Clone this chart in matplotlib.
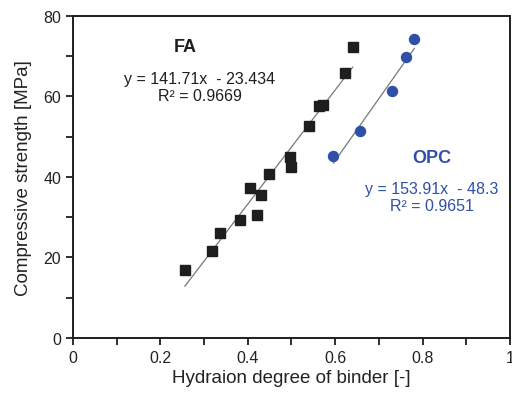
import numpy as np
import matplotlib
matplotlib.use("Agg")
import matplotlib.pyplot as plt
from matplotlib.ticker import MultipleLocator

plt.rcParams["font.family"] = ["Liberation Sans", "DejaVu Sans"]

# FA binder: hydration degree vs compressive strength
fa_x = [0.256, 0.317, 0.337, 0.382, 0.405, 0.420, 0.430, 0.449, 0.497, 0.500,
        0.540, 0.562, 0.571, 0.623, 0.640]
fa_y = [16.9, 21.5, 26.0, 29.3, 37.3, 30.5, 35.5, 40.7, 45.0, 42.5,
        52.7, 57.7, 57.9, 65.8, 72.2]

# OPC binder
opc_x = [0.596, 0.657, 0.731, 0.762, 0.781]
opc_y = [45.3, 51.3, 61.4, 69.7, 74.3]

fa_fit = (141.71, -23.434)
opc_fit = (153.91, -48.3)

x_ticks = [0, 0.2, 0.4, 0.6, 0.8, 1]
x_labels = ["0", "0.2", "0.4", "0.6", "0.8", "1"]
y_ticks = [0, 20, 40, 60, 80]
y_labels = ["0", "20", "40", "60", "80"]

blue = "#2F4FA8"
dark = "#1E1E1E"

fig = plt.figure(figsize=(5.12, 4.02), dpi=100)
ax = fig.add_axes([0.1426, 0.157, 0.8534, 0.801])

# trend lines over data range
xs = np.array([min(fa_x), max(fa_x)])
ax.plot(xs, fa_fit[0] * xs + fa_fit[1], color="#777777", lw=0.9, zorder=1)
xs = np.array([min(opc_x), max(opc_x)])
ax.plot(xs, opc_fit[0] * xs + opc_fit[1], color="#777777", lw=0.9, zorder=1)

ax.plot(fa_x, fa_y, "s", color=dark, ms=7.8, mec=dark, zorder=3)
ax.plot(opc_x, opc_y, "o", color=blue, ms=7.2, mec=blue, zorder=3)

ax.set_xlim(0, 1)
ax.set_ylim(0, 80)
ax.set_xticks(x_ticks)
ax.set_xticklabels(x_labels)
ax.set_yticks(y_ticks)
ax.set_yticklabels(y_labels)
ax.xaxis.set_minor_locator(MultipleLocator(0.1))
ax.yaxis.set_minor_locator(MultipleLocator(10))
ax.tick_params(which="both", direction="out", color=dark, width=1.3,
               labelsize=11.5, labelcolor="#222222", length=5)
for s in ax.spines.values():
    s.set_color(dark)
    s.set_linewidth(1.4)

ax.set_xlabel("Hydraion degree of binder [-]", fontsize=13.5, color="#222222",
              labelpad=3)
ax.set_ylabel("Compressive strength [MPa]", fontsize=13.5, color="#222222",
              labelpad=8)

ax.text(0.258, 72.5, "FA", fontsize=13, fontweight="bold", color=dark,
        ha="center", va="center")
ax.text(0.29, 62.3, "y = 141.71x  - 23.434\nR\u00b2 = 0.9669", fontsize=11.5,
        color=dark, ha="center", va="center", linespacing=1.15)
ax.text(0.822, 44.8, "OPC", fontsize=13, fontweight="bold", color=blue,
        ha="center", va="center")
ax.text(0.822, 35.0, "y = 153.91x  - 48.3\nR\u00b2 = 0.9651", fontsize=11.5,
        color=blue, ha="center", va="center", linespacing=1.15)

fig.savefig("out.png", dpi=100)
